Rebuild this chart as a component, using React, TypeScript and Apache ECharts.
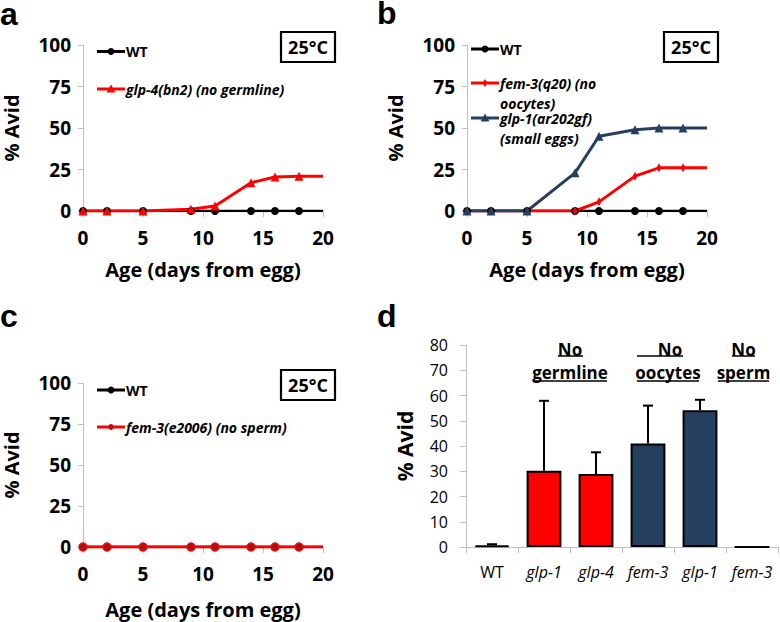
import React, { useEffect, useRef } from "react";
import * as echarts from "echarts";

// ---------- data ----------
const days = [0, 2, 5, 9, 11, 14, 16, 18, 20];
const wtA = [0, 0, 0, 0, 0, 0, 0, 0, 0];
const glp4bn2 = [0, 0, 0, 1, 3, 17, 20.5, 21, 21];
const wtB = [0, 0, 0, 0, 0, 0, 0, 0, 0];
const fem3q20 = [0, 0, 0, 0, 5.5, 21, 26, 26, 26];
const glp1ar202gf = [0, 0, 0, 23, 45, 49, 50, 50, 50];
const wtC = [0, 0, 0, 0, 0, 0, 0, 0, 0];
const fem3e2006 = [0, 0, 0, 0, 0, 0, 0, 0, 0];

const lineLegendA = ["WT", "glp-4(bn2) (no germline)"];
const lineLegendB = ["WT", "fem-3(q20) (no\noocytes)", "glp-1(ar202gf)\n(small eggs)"];
const lineLegendC = ["WT", "fem-3(e2006) (no sperm)"];

const barCategories = ["WT", "glp-1", "glp-4", "fem-3", "glp-1", "fem-3"];
const barValues = [0.6, 30.2, 28.9, 41, 54.2, 0];
const barErrorTop = [1.1, 57.9, 37.5, 56, 58.3, 0];
const barGroups = ["wt", "germline", "germline", "oocytes", "oocytes", "sperm"];
const groupLabels = [
  { top: "No", bottom: "germline" },
  { top: "No", bottom: "oocytes" },
  { top: "No", bottom: "sperm" },
];

const FONT = "'Open Sans', 'Noto Sans', sans-serif";
const RED = "#FF0000";
const NAVY = "#243F60";
const GRAY = "#BFBFBF";

function pairs(xs: number[], ys: number[]) {
  return xs.map((x, i) =>
    i === xs.length - 1 ? { value: [x, ys[i]], symbol: "none" } : { value: [x, ys[i]] }
  );
}

function lineXAxis(gridIndex: number, nameGap: number) {
  return {
    type: "value",
    gridIndex,
    min: 0,
    max: 20,
    interval: 5,
    axisLine: { show: true, lineStyle: { color: GRAY, width: 1 } },
    axisTick: { show: true, length: 6, lineStyle: { color: GRAY } },
    splitLine: { show: false },
    axisLabel: { fontFamily: FONT, fontWeight: "bold", fontSize: 19, color: "#000", margin: 17 },
    name: "Age (days from egg)",
    nameLocation: "middle",
    nameGap,
    nameTextStyle: { fontFamily: FONT, fontWeight: "bold", fontSize: 20, color: "#000" },
  };
}

function lineYAxis(gridIndex: number) {
  return {
    type: "value",
    gridIndex,
    min: 0,
    max: 100,
    interval: 25,
    offset: 6,
    axisLine: { show: true, lineStyle: { color: GRAY, width: 1 } },
    axisTick: { show: true, length: 5, lineStyle: { color: GRAY } },
    splitLine: { show: false },
    axisLabel: { fontFamily: FONT, fontWeight: "bold", fontSize: 19, color: "#000", margin: 6 },
    name: "% Avid",
    nameLocation: "middle",
    nameGap: 56,
    nameTextStyle: { fontFamily: FONT, fontWeight: "bold", fontSize: 20, color: "#000" },
  };
}

function lineSeries(name: string, idx: number, data: number[], color: string, symbol: string, symbolSize: any, extra: any = {}) {
  return {
    type: "line",
    name,
    xAxisIndex: idx,
    yAxisIndex: idx,
    data: pairs(days, data),
    symbol,
    symbolSize,
    showAllSymbol: true,
    lineStyle: { color, width: 3 },
    itemStyle: { color },
    ...extra,
  };
}

function legendItem(x: number, y: number, color: string, marker: string, lines: string, italic: boolean) {
  const children: any[] = [
    { type: "line", shape: { x1: x, y1: y, x2: x + 28, y2: y }, style: { stroke: color, lineWidth: 3 } },
  ];
  const cx = x + 14;
  if (marker === "circle") children.push({ type: "circle", shape: { cx, cy: y, r: 3.5 }, style: { fill: color } });
  if (marker === "triangle")
    children.push({ type: "polygon", shape: { points: [[cx, y - 4.5], [cx + 4.5, y + 3.5], [cx - 4.5, y + 3.5]] }, style: { fill: color } });
  if (marker === "diamond")
    children.push({ type: "polygon", shape: { points: [[cx, y - 4], [cx + 2.5, y], [cx, y + 4], [cx - 2.5, y]] }, style: { fill: color } });
  if (marker === "dotc")
    children.push({ type: "circle", shape: { cx, cy: y, r: 2.5 }, style: { fill: "#a31515", stroke: color, lineWidth: 1 } });
  children.push({
    type: "text",
    style: {
      x: x + 29,
      y: y - 10,
      text: lines,
      font: `${italic ? "italic " : ""}bold 14px ${FONT}`,
      fill: "#000",
      lineHeight: 20,
      align: "left",
      verticalAlign: "top",
    },
  });
  return children;
}

function tempBox(x: number, y: number) {
  return [
    { type: "rect", shape: { x, y, width: 54, height: 30 }, style: { fill: "#fff", stroke: "#000", lineWidth: 2.2 } },
    {
      type: "text",
      style: { x: x + 27, y: y + 15, text: "25°C", font: `bold 18px ${FONT}`, fill: "#000", align: "center", verticalAlign: "middle" },
    },
  ];
}

function panelLetter(x: number, y: number, t: string) {
  return {
    type: "text",
    style: { x, y, text: t, font: "bold 32px 'Liberation Sans', Arial, sans-serif", fill: "#000", align: "left", verticalAlign: "middle" },
  };
}

export default function App() {
  const ref = useRef<HTMLDivElement>(null);
  useEffect(() => {
    if (!ref.current) return;
    const chart = echarts.init(ref.current, undefined, { renderer: "svg" });
    const groupColor: Record<string, string> = { wt: "#000", germline: RED, oocytes: NAVY, sperm: "#000" };

    const graphics: any[] = [
      panelLetter(0, 14, "a"),
      panelLetter(377, 13, "b"),
      panelLetter(0, 316, "c"),
      panelLetter(377, 316, "d"),
      ...tempBox(281, 32),
      ...tempBox(664, 32),
      ...tempBox(281, 370),
      ...legendItem(97, 51.5, "#000", "circle", lineLegendA[0], false),
      ...legendItem(97, 89, RED, "triangle", lineLegendA[1], true),
      ...legendItem(471, 49, "#000", "circle", lineLegendB[0], false),
      ...legendItem(471, 83, RED, "diamond", lineLegendB[1], true),
      ...legendItem(471, 118, NAVY, "triangle", lineLegendB[2], true),
      ...legendItem(97, 390, "#000", "circle", lineLegendC[0], false),
      ...legendItem(97, 427, RED, "dotc", lineLegendC[1], true),
    ];
    // group labels for panel d
    const groupCenters = [570, 668, 743.5];
    groupLabels.forEach((g, i) => {
      const cx = groupCenters[i];
      graphics.push({
        type: "text",
        style: { x: cx + (i === 1 ? 2 : 0), y: 349, text: g.top, font: `bold 17px ${FONT}`, fill: "#000", align: "center", verticalAlign: "middle" },
      });
      graphics.push({
        type: "text",
        style: { x: cx, y: 372, text: g.bottom, font: `bold 17px ${FONT}`, fill: "#000", align: "center", verticalAlign: "middle" },
      });
    });
    const underlines = [
      [558, 583, 356], [533, 607, 381],
      [637, 683, 356], [637, 699, 381],
      [732, 755, 356], [718, 769, 381],
    ];
    underlines.forEach(([a, b, y]) =>
      graphics.push({ type: "line", shape: { x1: a, y1: y, x2: b, y2: y }, style: { stroke: "#000", lineWidth: 1.5 } })
    );

    const option: any = {
      animation: false,
      backgroundColor: "#fff",
      textStyle: { fontFamily: FONT },
      grid: [
        { left: 83, top: 45, width: 240, height: 166 },
        { left: 467, top: 45, width: 240, height: 166 },
        { left: 83, top: 383, width: 240, height: 164 },
        { left: 466, top: 345, width: 312, height: 202 },
      ],
      xAxis: [
        lineXAxis(0, 48),
        lineXAxis(1, 48),
        lineXAxis(2, 52),
        {
          type: "category",
          gridIndex: 3,
          data: barCategories,
          axisLine: { show: true, lineStyle: { color: GRAY, width: 1 } },
          axisTick: { show: true, length: 6, alignWithLabel: false, lineStyle: { color: GRAY } },
          axisLabel: {
            margin: 17,
            fontSize: 16,
            color: "#000",
            interval: 0,
            formatter: (v: string, i: number) => (i === 0 ? `{n|${v}}` : `{i|${v}}`),
            rich: {
              n: { fontFamily: FONT, fontSize: 16, color: "#000" },
              i: { fontFamily: FONT, fontSize: 16, fontStyle: "italic", color: "#000" },
            },
          },
        },
      ],
      yAxis: [
        lineYAxis(0),
        lineYAxis(1),
        lineYAxis(2),
        {
          type: "value",
          gridIndex: 3,
          min: 0,
          max: 80,
          interval: 10,
          axisLine: { show: true, lineStyle: { color: GRAY, width: 1 } },
          axisTick: { show: true, length: 6, lineStyle: { color: GRAY } },
          splitLine: { show: false },
          axisLabel: { fontFamily: FONT, fontSize: 16, color: "#000", margin: 18 },
          name: "% Avid",
          nameLocation: "middle",
          nameGap: 51,
          nameTextStyle: { fontFamily: FONT, fontWeight: "bold", fontSize: 21, color: "#000" },
        },
      ],
      series: [
        lineSeries("WT", 0, wtA, "#000", "circle", 8, { lineStyle: { color: "#000", width: 2.5 } }),
        lineSeries("glp-4(bn2) (no germline)", 0, glp4bn2, RED, "triangle", 9),
        lineSeries("WT", 1, wtB, "#000", "circle", 8, { lineStyle: { color: "#000", width: 2.5 } }),
        lineSeries("fem-3(q20) (no oocytes)", 1, fem3q20, RED, "diamond", [5, 9]),
        lineSeries("glp-1(ar202gf) (small eggs)", 1, glp1ar202gf, NAVY, "triangle", 9),
        lineSeries("WT", 2, wtC, "#000", "circle", 8, { lineStyle: { color: "#000", width: 2.5 } }),
        lineSeries("fem-3(e2006) (no sperm)", 2, fem3e2006, RED, "circle", 8, {
          itemStyle: { color: "#a31515", borderColor: RED, borderWidth: 1.5 },
        }),
        {
          type: "bar",
          xAxisIndex: 3,
          yAxisIndex: 3,
          barWidth: "67%",
          data: barValues.map((v, i) => ({
            value: v,
            itemStyle: { color: groupColor[barGroups[i]], borderColor: "#000", borderWidth: 2 },
          })),
        },
        {
          type: "custom",
          xAxisIndex: 3,
          yAxisIndex: 3,
          z: 5,
          data: barValues.map((v, i) => [i, v, barErrorTop[i]]),
          encode: { x: 0, y: [1, 2] },
          renderItem: (params: any, api: any) => {
            const i = api.value(0);
            const base = api.coord([i, api.value(1)]);
            const top = api.coord([i, api.value(2)]);
            if (api.value(2) <= api.value(1)) return { type: "group", children: [] };
            const st = { stroke: "#000", lineWidth: 2 };
            return {
              type: "group",
              children: [
                { type: "line", shape: { x1: base[0], y1: base[1], x2: base[0], y2: top[1] }, style: st },
                { type: "line", shape: { x1: base[0] - 5, y1: top[1], x2: base[0] + 5, y2: top[1] }, style: st },
              ],
            };
          },
        },
      ],
      graphic: graphics,
    };
    chart.setOption(option);
    return () => chart.dispose();
  }, []);
  return <div ref={ref} style={{ position: "absolute", left: 0, top: 0, width: 780, height: 622 }} />;
}
